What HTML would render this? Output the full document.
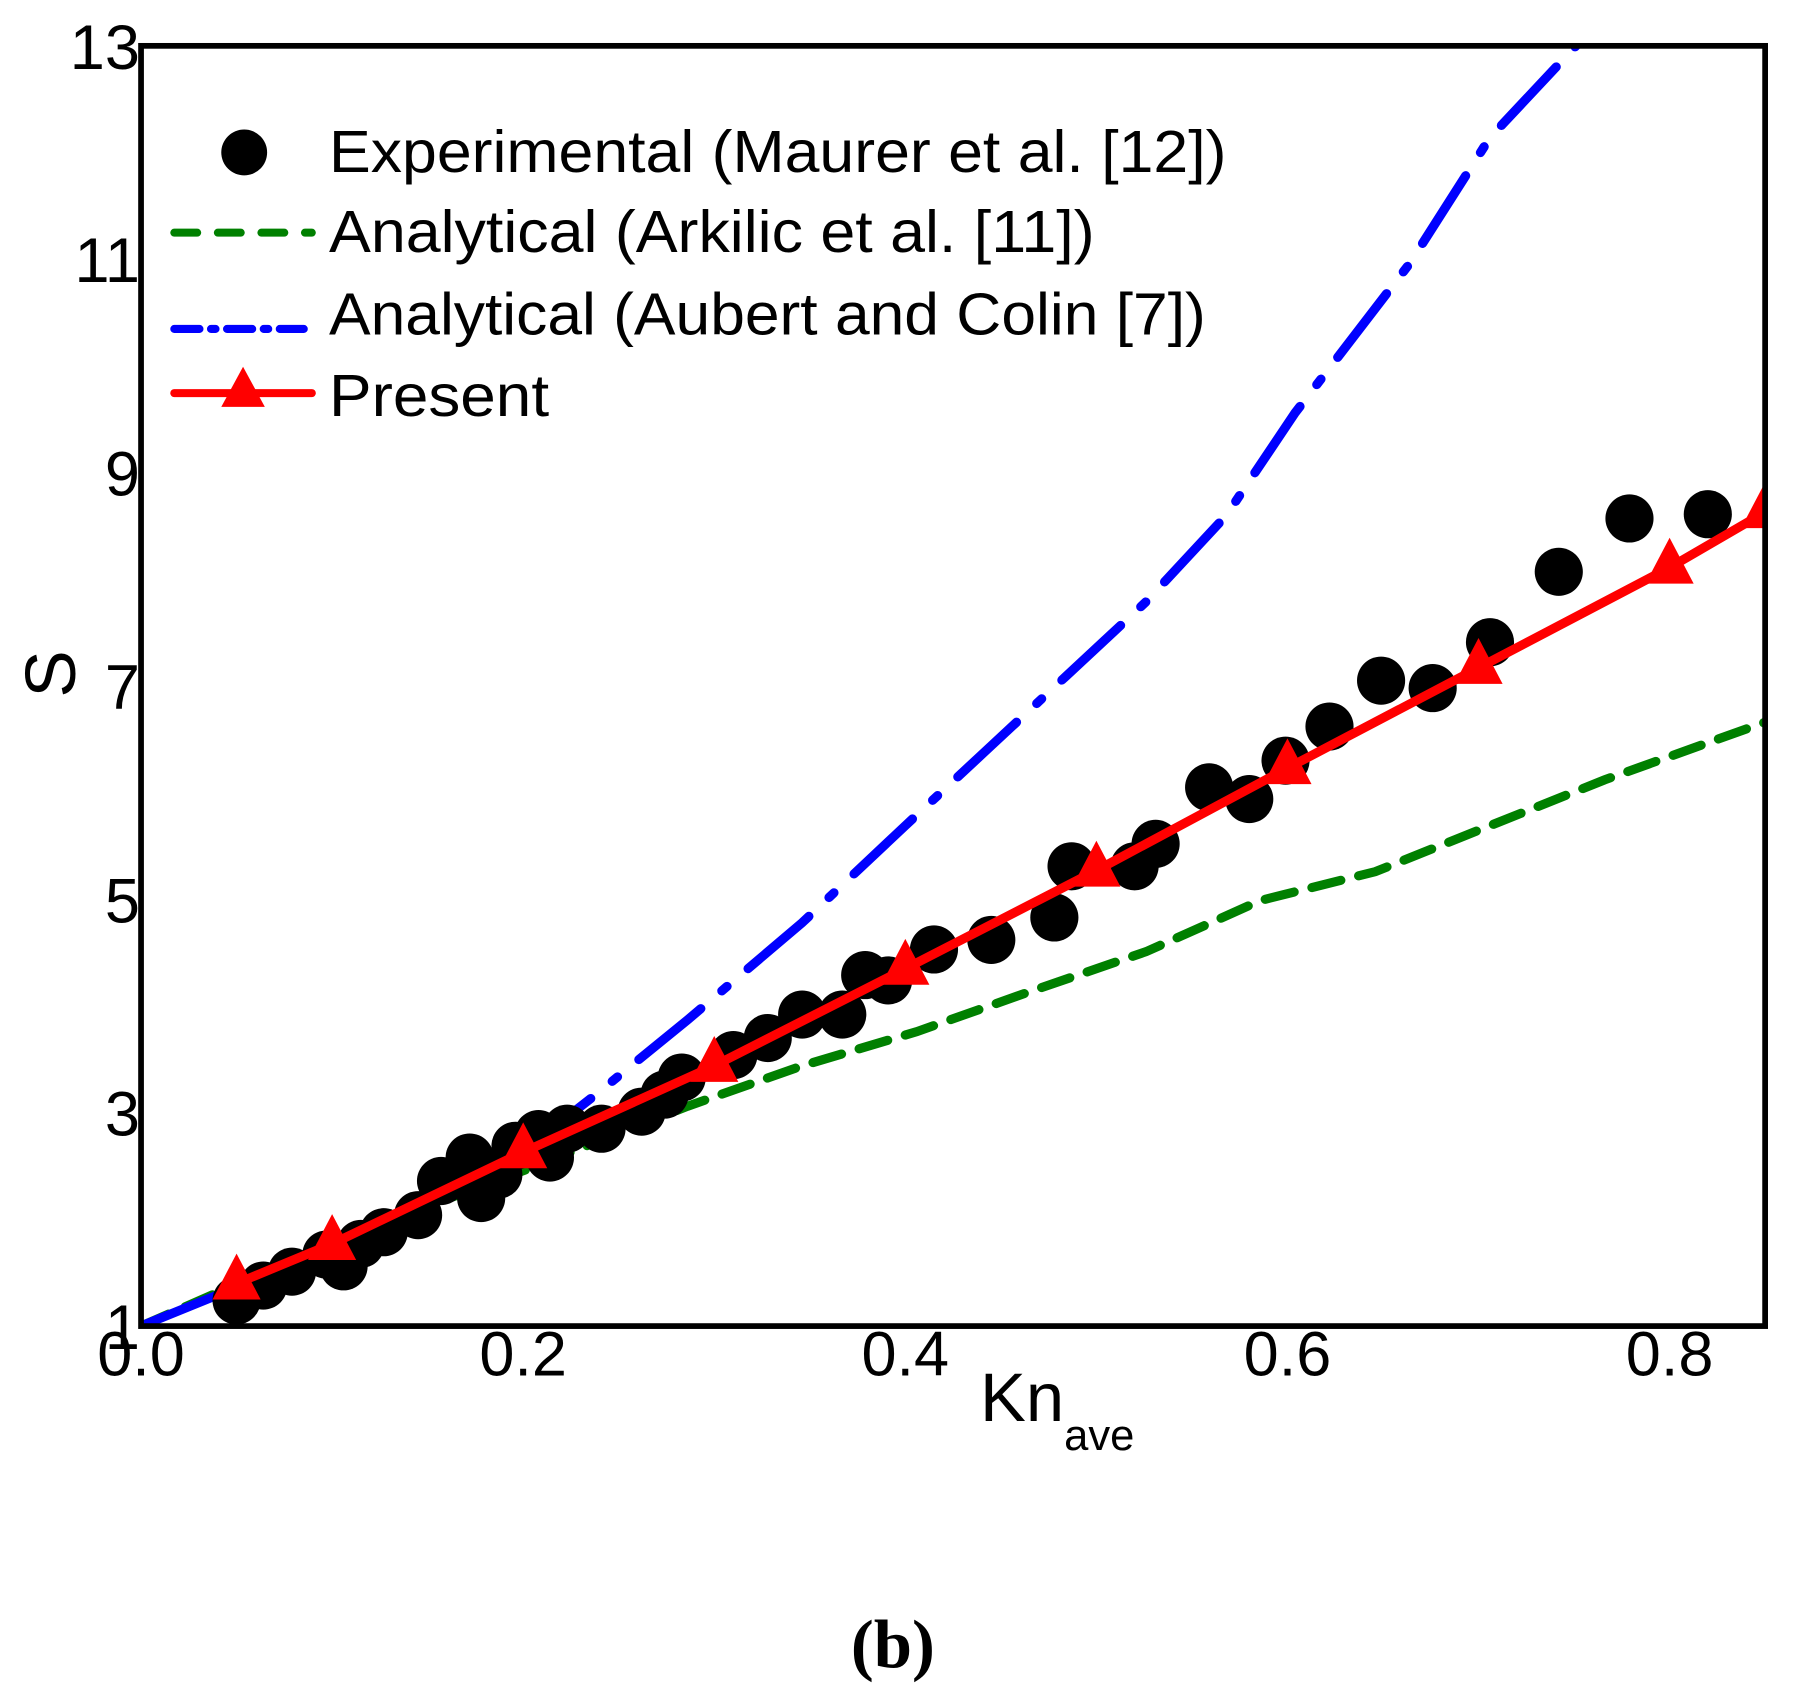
<!DOCTYPE html>
<html><head><meta charset="utf-8"><style>html,body{margin:0;padding:0;background:#fff}svg{display:block}text{font-family:"Liberation Sans",sans-serif}</style></head>
<body>
<svg id="chart" width="1795" height="1694" viewBox="0 0 1566 1478" xmlns="http://www.w3.org/2000/svg">
<defs><clipPath id="plotclip"><rect x="123" y="40" width="1417" height="1117"/></clipPath></defs>
<g id="plot" clip-path="url(#plotclip)"></g>
<rect x="123" y="40" width="1417" height="1117" fill="none" stroke="#000" stroke-width="5"/>
<g id="yticks"></g>
<g id="xticks"></g>
<text x="45" y="588" font-size="62" text-anchor="middle" dominant-baseline="central" transform="rotate(-90 45 588)">S</text>
<text x="855" y="1240" font-size="60">Kn<tspan font-size="38" dy="25">ave</tspan></text>
<text x="779" y="1455" font-size="60" font-weight="bold" text-anchor="middle" style="font-family:'Liberation Serif',serif">(b)</text>
<g>
<circle cx="213" cy="133" r="20" fill="#000"/>
<text x="287" y="150" font-size="52" textLength="783" lengthAdjust="spacingAndGlyphs">Experimental (Maurer et al. [12])</text>
<line x1="152" y1="203" x2="272" y2="203" stroke="#008000" stroke-width="7" stroke-dasharray="20,18" stroke-linecap="round"/>
<text x="287" y="220" font-size="52" textLength="668" lengthAdjust="spacingAndGlyphs">Analytical (Arkilic et al. [11])</text>
<line x1="152" y1="287" x2="265" y2="287" stroke="#0000ff" stroke-width="7" stroke-dasharray="22,10,4,10" stroke-linecap="round"/>
<text x="287" y="292" font-size="52" textLength="765" lengthAdjust="spacingAndGlyphs">Analytical (Aubert and Colin [7])</text>
<line x1="152" y1="343" x2="272" y2="343" stroke="#ff0000" stroke-width="7" stroke-linecap="round"/>
<polygon points="212,320 193,355 231,355" fill="#ff0000"/>
<text x="287" y="363" font-size="52" textLength="192" lengthAdjust="spacingAndGlyphs">Present</text>
</g>
</svg>
<script>
const expKn = [0.050,0.064,0.079,0.097,0.106,0.115,0.127,0.145,0.157,0.172,0.178,0.187,0.196,0.208,0.214,0.223,0.241,0.262,0.274,0.283,0.310,0.328,0.346,0.367,0.379,0.391,0.415,0.445,0.478,0.487,0.520,0.531,0.559,0.580,0.599,0.622,0.649,0.676,0.706,0.742,0.779,0.820];
const expS = [1.24,1.38,1.51,1.67,1.56,1.77,1.88,2.04,2.36,2.58,2.20,2.42,2.69,2.80,2.58,2.85,2.85,3.01,3.17,3.33,3.54,3.70,3.92,3.92,4.29,4.24,4.53,4.62,4.83,5.31,5.31,5.52,6.05,5.94,6.30,6.62,7.05,6.98,7.41,8.07,8.57,8.61];
const arkKn = [0,0.106,0.202,0.286,0.346,0.406,0.466,0.526,0.586,0.646,0.706,0.766,0.850];
const arkS = [1,1.83,2.47,3.06,3.44,3.76,4.14,4.51,4.99,5.26,5.69,6.12,6.66];
const aubKn = [0,0.106,0.196,0.238,0.286,0.346,0.400,0.442,0.484,0.526,0.568,0.604,0.664,0.706,0.751];
const aubS = [1,1.77,2.58,3.17,3.87,4.78,5.69,6.39,7.09,7.79,8.60,9.56,10.96,12.14,13.0];
const preKn = [0.05,0.1,0.2,0.3,0.4,0.5,0.6,0.7,0.8,0.85];
const preS = [1.40,1.77,2.63,3.44,4.35,5.27,6.23,7.17,8.11,8.63];
const xTicks = [0,0.2,0.4,0.6,0.8];
const xTickLabels = ["0.0","0.2","0.4","0.6","0.8"];
const yTicks = [1,3,5,7,9,11,13];
const yTickLabels = ["1","3","5","7","9","11","13"];

const NS = "http://www.w3.org/2000/svg";
const X = v => 123 + (v - 0) / 0.85 * 1417;
const Y = v => 1157 - (v - 1) / 12 * 1117;
const plot = document.getElementById('plot');
function mk(tag, attrs, parent) {
  const e = document.createElementNS(NS, tag);
  for (const k in attrs) e.setAttribute(k, attrs[k]);
  parent.appendChild(e);
  return e;
}
function pts(xs, ys) { return xs.map((v, i) => X(v).toFixed(1) + ',' + Y(ys[i]).toFixed(1)).join(' '); }

const ark = mk('polyline', {points: pts(arkKn, arkS), fill: 'none', stroke: '#008000', 'stroke-width': 8, 'stroke-dasharray': '26,16', 'stroke-linecap': 'round'}, plot);



const aub = mk('polyline', {points: pts(aubKn, aubS), fill: 'none', stroke: '#0000ff', 'stroke-width': 8, 'stroke-dasharray': '70,24,6,24', 'stroke-linecap': 'round'}, plot);



expKn.forEach((v, i) => {
  const c = mk('circle', {cx: X(v), cy: Y(expS[i]), r: 21, fill: '#000'}, plot);
  
  
});

const pre = mk('polyline', {points: pts(preKn, preS), fill: 'none', stroke: '#ff0000', 'stroke-width': 8, 'stroke-linecap': 'round'}, plot);



preKn.forEach((v, i) => {
  const x = X(v), y = Y(preS[i]);
  const t = mk('polygon', {points: `${x},${y-26} ${x-21},${y+14} ${x+21},${y+14}`, fill: '#ff0000'}, plot);
  
  
});

const yt = document.getElementById('yticks');
yTicks.forEach((v, i) => {
  const t = mk('text', {x: 122, y: Y(v) + 20, 'font-size': 55, 'text-anchor': 'end'}, yt);
  t.textContent = yTickLabels[i];
  
  
});
const xt = document.getElementById('xticks');
xTicks.forEach((v, i) => {
  const t = mk('text', {x: X(v), y: 1200, 'font-size': 55, 'text-anchor': 'middle'}, xt);
  t.textContent = xTickLabels[i];
  
  
});
</script>
</body></html>
